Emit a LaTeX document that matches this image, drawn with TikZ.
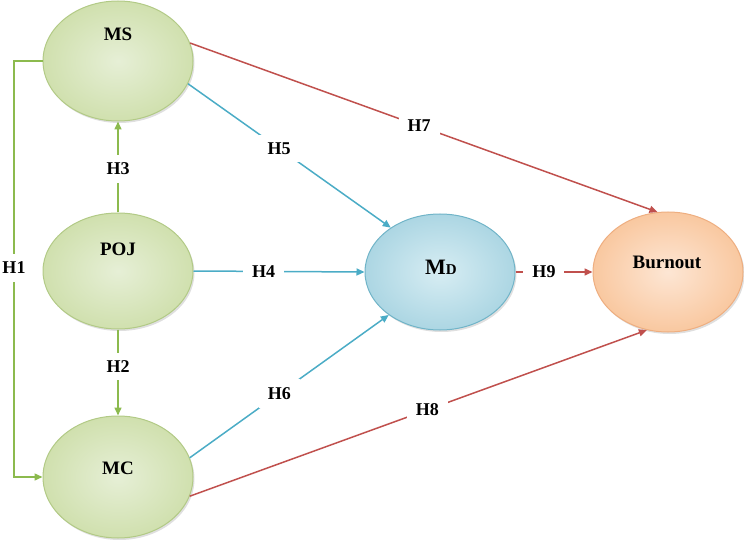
\documentclass[tikz,border=0pt]{standalone}
\usepackage{fontspec}
\setmainfont{Liberation Serif}
\usetikzlibrary{arrows.meta,shadows,shapes.geometric}
\definecolor{gline}{RGB}{140,186,78}
\definecolor{bline}{RGB}{75,172,198}
\definecolor{rline}{RGB}{192,80,77}
\definecolor{gin}{RGB}{230,239,214}
\definecolor{gout}{RGB}{208,224,174}
\definecolor{gbord}{RGB}{178,202,134}
\definecolor{bin}{RGB}{215,237,243}
\definecolor{bout}{RGB}{172,214,227}
\definecolor{bbord}{RGB}{112,180,200}
\definecolor{oin}{RGB}{253,230,212}
\definecolor{oout}{RGB}{249,200,160}
\definecolor{obord}{RGB}{238,174,128}
\tikzset{
  ell/.style={ellipse, minimum width=150pt, inner sep=0pt, line width=1pt,
    drop shadow={opacity=0.25, shadow xshift=1.5pt, shadow yshift=-2pt}},
  gell/.style={ell, draw=gbord, inner color=gin, outer color=gout},
  bell/.style={ell, draw=bbord, inner color=bin, outer color=bout},
  oell/.style={ell, draw=obord, inner color=oin, outer color=oout},
  nlab/.style={font=\fontsize{19}{19}\selectfont\bfseries, inner sep=0pt},
  hlab/.style={font=\fontsize{18}{18}\selectfont\bfseries, fill=white, inner xsep=9pt, inner ysep=8pt, pos=#1},
  hlab/.default=0.5,
  tip/.style={-{Triangle[length=8pt,width=7pt]}},
  gcon/.style={draw=gline, line width=1.5pt, tip},
  bcon/.style={draw=bline, line width=1.5pt, tip},
  rcon/.style={draw=rline, line width=1.5pt, tip},
}
\begin{document}
\begin{tikzpicture}[x=1pt,y=-1pt]
\useasboundingbox (0,0) rectangle (744,540);
% nodes
\node[gell, minimum height=120pt] (MS) at (118,61) {};
\node[gell, minimum height=116pt] (POJ) at (118,271) {};
\node[gell, minimum height=122pt] (MC) at (118,477) {};
\node[bell, minimum height=116pt] (MD) at (440,272) {};
\node[oell, minimum height=120pt] (BO) at (668,272) {};
% labels
\node[nlab] (tMS) at (118,34) {MS};
\node[nlab] (tPOJ) at (118,249) {POJ};
\node[nlab] (tMC) at (118,468) {MC};
\node[inner sep=0pt, font=\bfseries] (tMD) at (441,267) {{\fontsize{22}{22}\selectfont M}{\fontsize{15}{15}\selectfont D}};
\node[nlab] (tBO) at (667,262) {Burnout};
% connectors
\coordinate (h1) at (14,268);
\draw[gcon] (MS.west) -| (h1) |- (MC.west);
\node[font=\fontsize{18}{18}\selectfont\bfseries, fill=white, inner xsep=1pt, inner ysep=8pt] at (h1) {H1};
\draw[gcon] (POJ.north) -- node[hlab=0.48] {H3} (MS.south);
\draw[gcon] (POJ.south) -- node[hlab=0.43] {H2} (MC.north);
\draw[bcon] (POJ.east) -- node[hlab=0.41] {H4} (MD.west);
\draw[bcon] (MS.-18) -- node[hlab=0.45] {H5} (MD.138);
\draw[bcon] (MC.15) -- node[hlab=0.45] {H6} (MD.220);
\draw[rcon] (MS.14) -- node[hlab=0.49] {H7} (BO.100);
\draw[rcon] (MC.-15) -- node[hlab=0.52] {H8} (BO.250);
\draw[rcon] (MD.east) -- node[hlab=0.37] {H9} (BO.west);
\end{tikzpicture}
\end{document}
